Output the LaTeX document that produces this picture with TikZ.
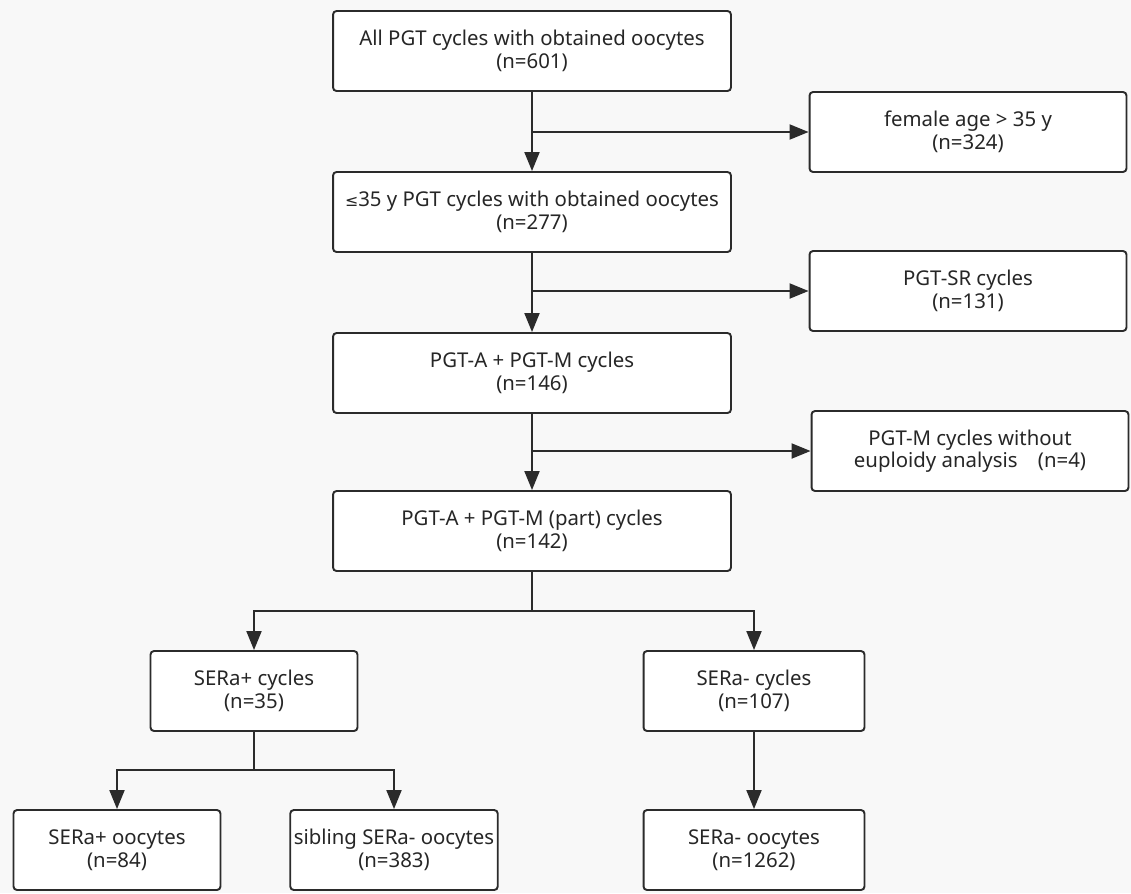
\documentclass[tikz,border=0pt]{standalone}
\usepackage{fontspec}
\setmainfont{Noto Sans}
\newfontfamily\symfont{DejaVu Sans}
\usetikzlibrary{arrows.meta}
\definecolor{linegray}{HTML}{2B2B2B}
\definecolor{paper}{HTML}{F8F8F8}
\tikzset{
  >={Triangle[length=3.8mm, width=3mm]},
  box/.style={draw=linegray, fill=white, rounded corners=2pt, line width=1.1pt, align=center,
    minimum height=1.6cm, inner sep=2pt, font=\fontsize{11.6}{12.8}\selectfont, text=black!85},
  wide/.style={box, minimum width=7.96cm},
  side/.style={box, minimum width=6.34cm},
  small/.style={box, minimum width=4.14cm},
  flow/.style={draw=linegray, line width=1.1pt},
}

\begin{document}
\begin{tikzpicture}[x=0.02cm, y=-0.02cm]
  \fill[paper] (0,0) rectangle (1131,893);
  \useasboundingbox (0,0) rectangle (1131,893);

  % main column
  \node[wide] (all) at (532,51) {All PGT cycles with obtained oocytes\\(n=601)};
  \node[wide] (young) at (532,212) {{\symfont\small ≤}35 y PGT cycles with obtained oocytes\\(n=277)};
  \node[wide] (am) at (532,373) {PGT-A + PGT-M cycles\\(n=146)};
  \node[wide] (part) at (532,531) {PGT-A + PGT-M (part) cycles\\(n=142)};

  % excluded
  \node[side] (old) at (968,132) {female age > 35 y\\(n=324)};
  \node[side] (sr) at (968,291) {PGT-SR cycles\\(n=131)};
  \node[side] (noeu) at (970,451) {PGT-M cycles without\\euploidy analysis\quad(n=4)};

  % groups
  \node[small] (posc) at (254,691) {SERa+ cycles\\(n=35)};
  \node[small, minimum width=4.42cm] (negc) at (754,691) {SERa- cycles\\(n=107)};
  \node[small] (poso) at (117,850) {SERa+ oocytes\\(n=84)};
  \node[small] (sibo) at (394,850) {sibling SERa- oocytes\\(n=383)};
  \node[small, minimum width=4.42cm] (nego) at (754,850) {SERa- oocytes\\(n=1262)};

  \coordinate (split1) at (532,611);
  \coordinate (split2) at (254,770);

  \draw[flow, ->] (all) -- (young);
  \draw[flow, ->] (young) -- (am);
  \draw[flow, ->] (am) -- (part);
  \draw[flow, ->] (all.south |- old) -- (old);
  \draw[flow, ->] (all.south |- sr) -- (sr);
  \draw[flow, ->] (all.south |- noeu) -- (noeu);

  \draw[flow] (part) -- (split1);
  \draw[flow, ->] (split1) -| (posc);
  \draw[flow, ->] (split1) -| (negc);
  \draw[flow, ->] (negc) -- (nego);
  \draw[flow] (posc) -- (split2);
  \draw[flow, ->] (split2) -| (poso);
  \draw[flow, ->] (split2) -| (sibo);
\end{tikzpicture}
\end{document}
